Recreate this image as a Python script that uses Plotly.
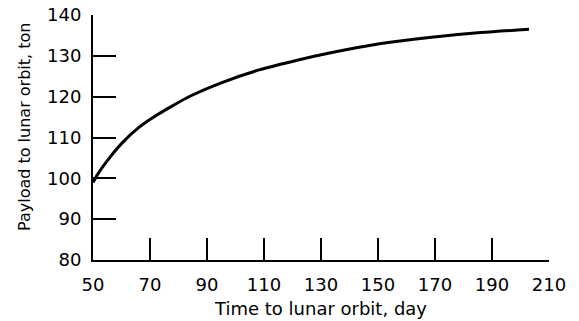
import plotly.graph_objects as go

# Data
time_days = [50, 52, 56, 60, 66, 72, 78, 84, 95, 108, 122, 133, 150, 168, 186, 203]
payload_ton = [99, 101.4, 105.2, 108.5, 112.4, 115.3, 117.8, 120.1, 123.4, 126.5,
               129.0, 130.7, 132.9, 134.5, 135.7, 136.5]

x_ticks = [50, 70, 90, 110, 130, 150, 170, 190, 210]
y_ticks = [80, 90, 100, 110, 120, 130, 140]

x_title = "Time to lunar orbit, day"
y_title = "Payload to lunar orbit, ton"

font = dict(family="DejaVu Sans, Liberation Sans, sans-serif", size=18, color="black")
ytitle_font = dict(family="DejaVu Sans, Liberation Sans, sans-serif", size=16, color="black")

fig = go.Figure()
fig.add_trace(go.Scatter(
    x=time_days, y=payload_ton, mode="lines",
    line=dict(color="black", width=3, shape="spline", smoothing=0.8),
    hoverinfo="skip", showlegend=False,
))

fig.update_layout(
    width=579, height=321,
    margin=dict(l=93, r=30, t=15, b=61),
    paper_bgcolor="white", plot_bgcolor="white",
    font=font,
    xaxis=dict(
        range=[50, 210], tickvals=x_ticks, ticktext=[str(v) for v in x_ticks],
        showgrid=False, zeroline=False,
        showline=True, linecolor="black", linewidth=2,
        ticks="inside", ticklen=22, tickwidth=2, tickcolor="black",
        ticklabelstandoff=7,
        title=dict(text=x_title, font=font, standoff=9),
        automargin=False,
    ),
    yaxis=dict(
        range=[80, 140], tickvals=y_ticks, ticktext=[str(v) for v in y_ticks],
        showgrid=False, zeroline=False,
        showline=True, linecolor="black", linewidth=2,
        ticks="inside", ticklen=23, tickwidth=2, tickcolor="black",
        ticklabelstandoff=6,
        automargin=False,
    ),
    annotations=[dict(
        text=y_title, font=ytitle_font, textangle=-90,
        xref="paper", yref="paper", x=-0.149, y=0.543,
        xanchor="center", yanchor="middle", showarrow=False,
    )],
)

fig.write_html("out.html")
